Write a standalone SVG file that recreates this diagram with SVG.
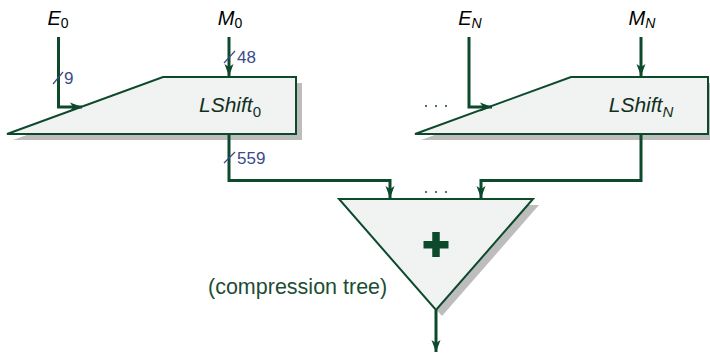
<svg xmlns="http://www.w3.org/2000/svg" width="710" height="354" viewBox="0 0 710 354">
  <style>
    .shadow { fill: #bdbdbd; }
    .block { fill: #f1f3f2; stroke: #0d4a2c; stroke-width: 2; stroke-linejoin: miter; }
    .wire { fill: none; stroke: #0d4a2c; stroke-width: 3; }
    .tick { stroke: #3b4a8c; stroke-width: 1.2; }
    .width { font-family: "Liberation Sans", Arial, sans-serif; font-size: 17px; fill: #3b4a8c; }
    .sig { font-family: "Liberation Sans", Arial, sans-serif; font-size: 20px; font-style: italic; fill: #000; text-anchor: middle; }
    .name { font-family: "Liberation Sans", Arial, sans-serif; font-size: 21px; font-style: italic; fill: #12301f; text-anchor: middle; }
    .note { font-family: "Liberation Sans", Arial, sans-serif; font-size: 21.5px; fill: #1d4d35; }
    .up { font-style: normal; }
    .dots { fill: #0d4a2c; }
  </style>
  <defs>
    <marker id="arrow" markerUnits="userSpaceOnUse" markerWidth="14" markerHeight="12" viewBox="-12 -6 14 12" refX="0" refY="0" orient="auto">
      <path d="M0,0 L-12,-4.5 L-9,0 L-12,4.5 Z" fill="#0d4a2c"/>
    </marker>
  </defs>

  <!-- shifter for lane 0 -->
  <g id="lshift0">
    <polygon class="shadow" points="13,140 169,83 302,83 302,140"/>
    <polygon class="block" points="7,134 163,77 296,77 296,134"/>
    <text class="name" x="230" y="112">LShift<tspan class="up" font-size="15" dy="5">0</tspan></text>
  </g>

  <!-- shifter for lane N -->
  <g id="lshiftN">
    <polygon class="shadow" points="421,140 577,83 714,83 714,140"/>
    <polygon class="block" points="415,134 571,77 708,77 708,134"/>
    <text class="name" x="641" y="112">LShift<tspan font-size="15" dy="5">N</tspan></text>
  </g>

  <!-- compression tree adder -->
  <g id="tree">
    <polygon class="shadow" points="345,205 539,205 442,316"/>
    <polygon class="block" points="339,199 533,199 436,310"/>
    <rect x="423.5" y="241" width="25" height="7.5" fill="#0d4a2c"/>
    <rect x="432.25" y="232" width="7.5" height="25" fill="#0d4a2c"/>
    <text class="note" x="208" y="294">(compression tree)</text>
  </g>

  <!-- input labels -->
  <g id="e0"><text class="sig" x="58" y="25">E<tspan class="up" font-size="14" dy="3">0</tspan></text></g>
  <g id="m0"><text class="sig" x="230" y="25">M<tspan class="up" font-size="14" dy="3">0</tspan></text></g>
  <g id="eN"><text class="sig" x="470" y="25">E<tspan font-size="14" dy="3">N</tspan></text></g>
  <g id="mN"><text class="sig" x="642" y="25">M<tspan font-size="14" dy="3">N</tspan></text></g>

  <!-- wires -->
  <g id="connectors">
    <polyline class="wire" points="58.5,37 58.5,107 82,107" marker-end="url(#arrow)"/>
    <polyline class="wire" points="229,37 229,76" marker-end="url(#arrow)"/>
    <polyline class="wire" points="469,37 469,107 492,107" marker-end="url(#arrow)"/>
    <polyline class="wire" points="641,37 641,76" marker-end="url(#arrow)"/>
    <polyline class="wire" points="229,134 229,180.5 390,180.5 390,198" marker-end="url(#arrow)"/>
    <polyline class="wire" points="641,134 641,180.5 481,180.5 481,198" marker-end="url(#arrow)"/>
    <polyline class="wire" points="436,310 436,352" marker-end="url(#arrow)"/>

    <!-- bus width marks -->
    <line class="tick" x1="53" y1="84" x2="63" y2="72"/>
    <text class="width" x="64" y="84">9</text>
    <line class="tick" x1="224" y1="63" x2="235" y2="51"/>
    <text class="width" x="237" y="63">48</text>
    <line class="tick" x1="224" y1="163" x2="235" y2="152"/>
    <text class="width" x="237" y="164">559</text>
  </g>

  <!-- ellipses for the lanes in between -->
  <g id="ellipsis">
    <circle class="dots" cx="426" cy="106" r="1"/>
    <circle class="dots" cx="436" cy="106" r="1"/>
    <circle class="dots" cx="446" cy="106" r="1"/>
    <circle class="dots" cx="426" cy="192" r="1"/>
    <circle class="dots" cx="436" cy="192" r="1"/>
    <circle class="dots" cx="446" cy="192" r="1"/>
  </g>
</svg>
